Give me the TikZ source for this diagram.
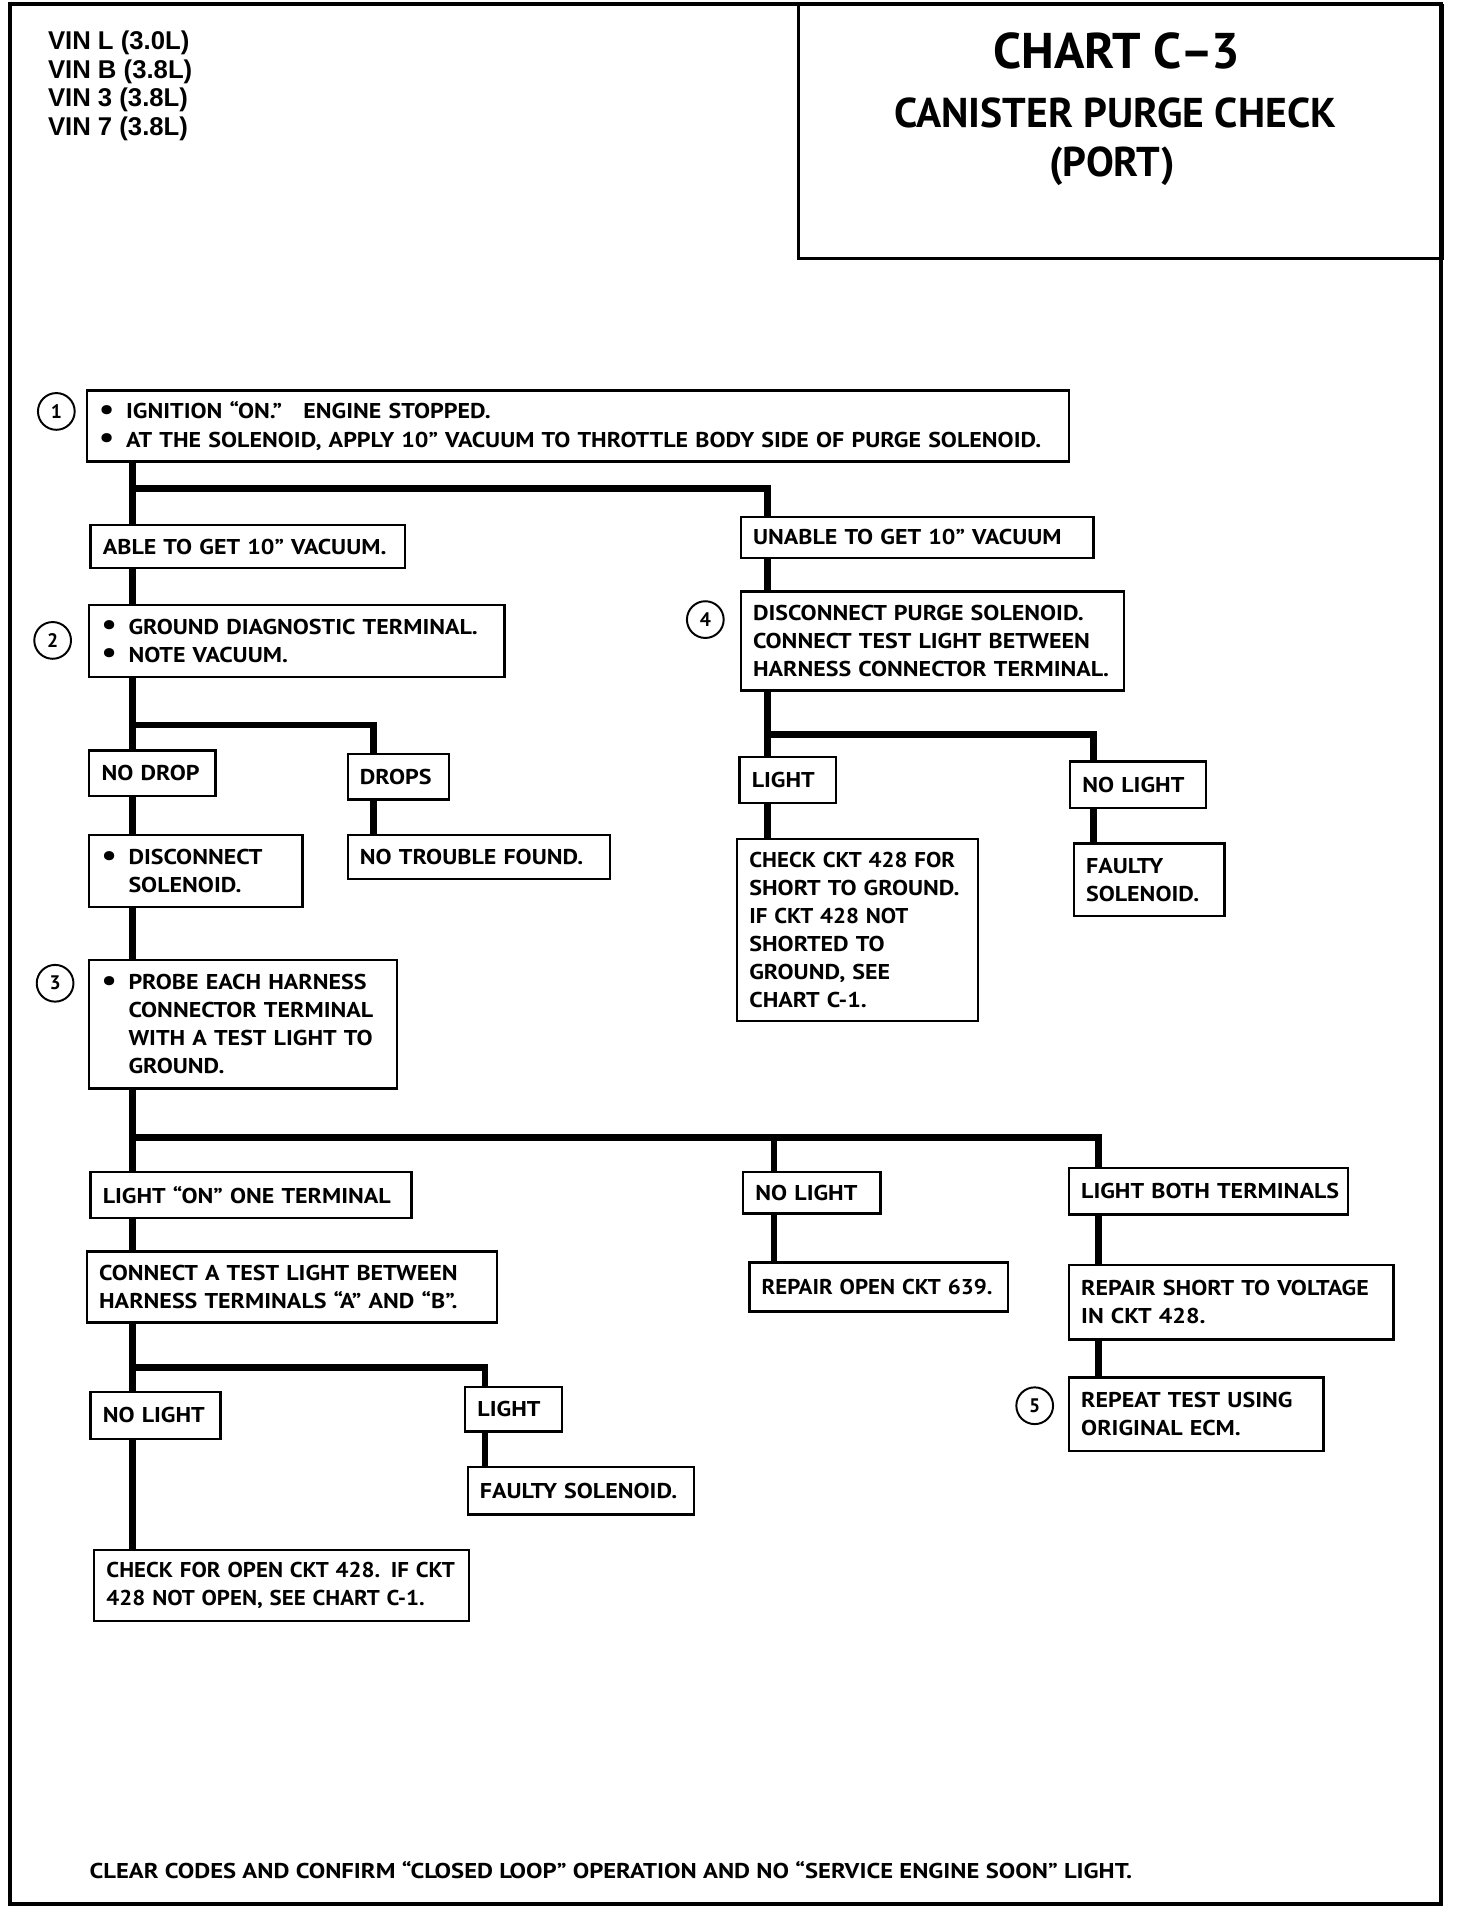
\documentclass[tikz,border=0pt]{standalone}
\usepackage{fontspec}
\setmainfont{PT Sans}[FakeStretch=1.12, WordSpace=0.8]
\newfontfamily\titlefont{PT Sans}
\newfontfamily\footfont{PT Sans}[FakeStretch=1.15]
\newfontfamily\vinfont{Liberation Sans}
\newcommand\bl{\makebox[22pt][l]{\raisebox{-0.05ex}{\scalebox{1.4}{\textbullet}}}}
\newcommand\oneln[1]{\mbox{#1}}
\newcommand\narln[1]{\scalebox{0.955}[1]{#1}}
\newcommand\boxfont{\bfseries\fontsize{17.5}{23}\selectfont}
\begin{document}
\begin{tikzpicture}[x=1pt,y=-1pt,
  box/.style={draw, line width=1.9pt, anchor=north west, inner ysep=0pt, inner xsep=10pt, font=\boxfont, align=left},
  conn/.style={line width=5.5pt},
  num/.style={draw, circle, line width=1.6pt, minimum size=30pt, inner sep=0pt, font=\titlefont\bfseries\fontsize{16}{16}\selectfont},
  frame/.style={draw, line width=3pt},
]
\useasboundingbox (0,0) rectangle (1202,1568);
\draw[frame] (8,3) rectangle (1177,1555);
\node[draw, line width=2pt, anchor=north west, minimum width=526pt, minimum height=207pt, inner sep=0pt] (titlebox) at (651,3) {};
\node[font=\titlefont\bfseries\fontsize{41}{41}\selectfont] (t1) at (912,42) {CHART C\kern-1pt–\kern-2pt3};
\node[font=\titlefont\bfseries\fontsize{34}{34}\selectfont] (t2) at (911,92) {CANISTER PURGE CHECK};
\node[font=\titlefont\bfseries\fontsize{34}{34}\selectfont] (t3) at (908,136) {(PORT)};
\node[anchor=north west, align=left, inner sep=0pt, font=\vinfont\bfseries\fontsize{21}{23.3}\selectfont] (vin) at (39,25) {VIN L (3.0L)\\VIN B (3.8L)\\VIN 3 (3.8L)\\VIN 7 (3.8L)};

% boxes
\node[box, text width=782pt, minimum height=58pt] (s1) at (70,318) {\oneln{\bl IGNITION “ON.”\ \ \ ENGINE STOPPED.}\\\oneln{\bl AT THE SOLENOID, APPLY 10” VACUUM TO THROTTLE BODY SIDE OF PURGE SOLENOID.}};
\node[box, text width=237pt, minimum height=35pt] (able) at (73,428) {\oneln{ABLE TO GET 10” VACUUM.}};
\node[box, text width=268pt, minimum height=34pt] (unable) at (604,421) {\oneln{UNABLE TO GET 10” VACUUM}};
\node[box, text width=319pt, minimum height=59pt] (s2) at (72,493) {\oneln{\bl GROUND DIAGNOSTIC TERMINAL.}\\\oneln{\bl NOTE VACUUM.}};
\node[box, text width=83pt, minimum height=37pt] (nodrop) at (72,612) {\oneln{NO DROP}};
\node[box, text width=63pt, minimum height=37pt] (drops) at (283,615) {\oneln{DROPS}};
\node[box, text width=194pt, minimum height=36pt] (ntf) at (283,681) {\oneln{NO TROUBLE FOUND.}};
\node[box, text width=154pt, minimum height=59pt] (disc) at (72,681) {\oneln{\bl DISCONNECT}\\\oneln{\hspace*{22pt}SOLENOID.}};
\node[box, text width=231pt, minimum height=105pt] (s3) at (72,783) {\oneln{\bl PROBE EACH HARNESS}\\\oneln{\hspace*{22pt}CONNECTOR TERMINAL}\\\oneln{\hspace*{22pt}WITH A TEST LIGHT TO}\\\oneln{\hspace*{22pt}GROUND.}};
\node[box, text width=293pt, minimum height=81pt] (s4) at (604,482) {\oneln{DISCONNECT PURGE SOLENOID.}\\\oneln{CONNECT TEST LIGHT BETWEEN}\\\oneln{HARNESS CONNECTOR TERMINAL.}};
\node[box, text width=59pt, minimum height=38pt] (light4) at (603,617) {\oneln{LIGHT}};
\node[box, text width=177pt, minimum height=149pt] (check4) at (601,684) {\narln{CHECK CKT 428 FOR}\\\oneln{SHORT TO GROUND.}\\\narln{IF CKT 428 NOT}\\\oneln{SHORTED TO}\\\oneln{GROUND, SEE}\\\oneln{CHART C-1.}};
\node[box, text width=91pt, minimum height=38pt] (nolight4) at (873,621) {\oneln{NO LIGHT}};
\node[box, text width=103pt, minimum height=59pt] (faulty4) at (876,688) {\oneln{FAULTY}\\\oneln{SOLENOID.}};
\node[box, text width=242pt, minimum height=38pt] (lighton) at (73,956) {\oneln{LIGHT “ON” ONE TERMINAL}};
\node[box, text width=315pt, minimum height=58pt] (connect) at (70,1021) {\oneln{CONNECT A TEST LIGHT BETWEEN}\\\oneln{HARNESS TERMINALS “A” AND “B”.}};
\node[box, text width=86pt, minimum height=38pt] (nolightA) at (73,1136) {\oneln{NO LIGHT}};
\node[box, text width=59pt, minimum height=36pt] (lightA) at (379,1132) {\oneln{LIGHT}};
\node[box, text width=165pt, minimum height=39pt] (faultyA) at (381,1197) {\oneln{FAULTY SOLENOID.}};
\node[box, text width=286pt, minimum height=58pt] (checkopen) at (76,1265) {\narln{CHECK FOR OPEN CKT 428.\hspace{9pt}IF CKT}\\\narln{428 NOT OPEN, SEE CHART C-1.}};
\node[box, text width=92pt, minimum height=34pt] (nolightB) at (606,956) {\oneln{NO LIGHT}};
\node[box, text width=191pt, minimum height=40pt] (repair639) at (611,1030) {\narln{REPAIR OPEN CKT 639.}};
\node[box, text width=208pt, minimum height=38pt] (lightboth) at (872,953) {\oneln{LIGHT BOTH TERMINALS}};
\node[box, text width=245pt, minimum height=61pt] (repairshort) at (872,1032) {\oneln{REPAIR SHORT TO VOLTAGE}\\\oneln{IN CKT 428.}};
\node[box, text width=188pt, minimum height=60pt] (repeat) at (872,1124) {\oneln{REPEAT TEST USING}\\\oneln{ORIGINAL ECM.}};

% numbered circles
\node[num] (c1) at (46,336) {1};
\node[num] (c2) at (43,523) {2};
\node[num] (c3) at (45,803) {3};
\node[num] (c4) at (576,506) {4};
\node[num] (c5) at (845,1148) {5};

% footer
\node[anchor=base west, inner sep=0pt, font=\footfont\bfseries\fontsize{17.5}{23}\selectfont] (foot) at (73,1534) {CLEAR CODES AND CONFIRM “CLOSED LOOP” OPERATION AND NO “SERVICE ENGINE SOON” LIGHT.};

% column coordinates / junctions
\coordinate (j1) at (108,399);
\coordinate (j2) at (108,592);
\coordinate (j3) at (108,929);
\coordinate (j4) at (627,600);
\coordinate (j5) at (108,1117);
\coordinate (xb) at (305,0);
\coordinate (xc) at (627,0);
\coordinate (xd) at (893,0);
\coordinate (xe) at (396,0);
\coordinate (xf) at (632,0);
\coordinate (xg) at (897,0);

% connectors
\draw[conn] (s1.south -| j1) -- (able.north -| j1);
\draw[conn] (j1) -| (unable.north -| xc);
\draw[conn] (unable.south -| xc) -- (s4.north -| xc);
\draw[conn] (able.south -| j1) -- (s2.north -| j1);
\draw[conn] (s2.south -| j2) -- (nodrop.north -| j2);
\draw[conn] (j2) -| (drops.north -| xb);
\draw[conn] (drops.south -| xb) -- (ntf.north -| xb);
\draw[conn] (nodrop.south -| j2) -- (disc.north -| j2);
\draw[conn] (disc.south -| j2) -- (s3.north -| j2);
\draw[conn] (s3.south -| j3) -- (lighton.north -| j3);
\draw[conn] (j3) -- (j3 -| xf) -- (nolightB.north -| xf);
\draw[conn] (j3 -| xf) -| (lightboth.north -| xg);
\draw[conn] (s4.south -| j4) -- (light4.north -| j4);
\draw[conn] (j4) -| (nolight4.north -| xd);
\draw[conn] (light4.south -| j4) -- (check4.north -| j4);
\draw[conn] (nolight4.south -| xd) -- (faulty4.north -| xd);
\draw[conn] (lighton.south -| j3) -- (connect.north -| j3);
\draw[conn] (connect.south -| j5) -- (nolightA.north -| j5);
\draw[conn] (j5) -| (lightA.north -| xe);
\draw[conn] (lightA.south -| xe) -- (faultyA.north -| xe);
\draw[conn] (nolightA.south -| j5) -- (checkopen.north -| j5);
\draw[conn] (nolightB.south -| xf) -- (repair639.north -| xf);
\draw[conn] (lightboth.south -| xg) -- (repairshort.north -| xg);
\draw[conn] (repairshort.south -| xg) -- (repeat.north -| xg);
\end{tikzpicture}
\end{document}
